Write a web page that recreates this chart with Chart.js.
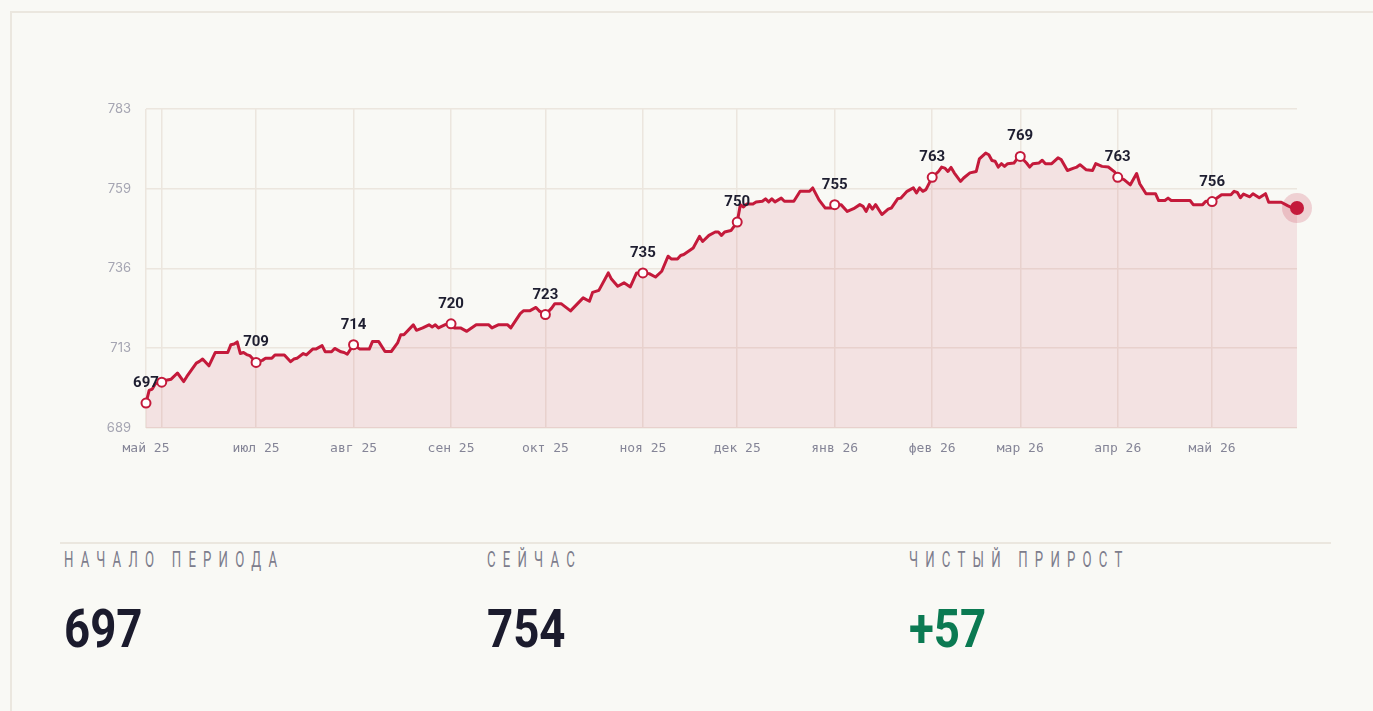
<!DOCTYPE html>
<html lang="ru">
<head>
<meta charset="utf-8">
<title>Динамика</title>
<script src="https://cdn.jsdelivr.net/npm/chart.js@4.4.1/dist/chart.umd.min.js"></script>
<style>
  html, body { margin: 0; padding: 0; background: #f9f9f5; overflow: hidden; }
  body { width: 1373px; height: 711px; position: relative; font-family: Roboto, "Noto Sans", sans-serif; }
  .card { position: absolute; left: 10px; top: 11px; width: 1400px; height: 760px; border: 2px solid #ebe7df; box-sizing: border-box; background: #f9f9f5; }
  .chart-wrap { position: absolute; left: 96px; top: 80px; width: 1240px; height: 390px; }
  .divider { position: absolute; left: 60px; top: 542px; width: 1271px; height: 2px; background: #ebe7df; }
  .stat-label { position: absolute; top: 549px; font-size: 22px; line-height: 22px; color: #7d7d8c; letter-spacing: 12px; transform: scaleX(0.6); transform-origin: left top; white-space: nowrap; }
  .stat-value { position: absolute; top: 603px; font-size: 53px; line-height: 53px; font-weight: 700; color: #1b1b2d; transform: scaleX(0.86); transform-origin: left top; white-space: nowrap; }
  .stat-value.up { color: #0b7a52; }
</style>
</head>
<body>
<div class="card"></div>
<div class="chart-wrap"><canvas id="chart" width="1240" height="390" style="width:1240px;height:390px"></canvas></div>
<div class="divider"></div>
<div class="stat-label" style="left:64px">НАЧАЛО ПЕРИОДА</div>
<div class="stat-label" style="left:487px">СЕЙЧАС</div>
<div class="stat-label" style="left:909px">ЧИСТЫЙ ПРИРОСТ</div>
<div class="stat-value" style="left:64px">697</div>
<div class="stat-value" style="left:487px">754</div>
<div class="stat-value up" style="left:909px">+57</div>
<script>
const days = [0,1,2,3,5,6,8,10,12,13,16,17,18,20,22,26,27,28,29,30,31,32,33,35,37,38,40,41,44,46,47,48,50,51,53,54,56,57,59,60,62,63,64,66,68,71,72,74,76,78,80,81,82,85,86,88,90,91,92,93,95,97,98,100,102,105,109,110,112,115,116,119,120,122,124,125,127,129,130,132,135,139,141,142,144,147,148,150,152,154,156,158,160,162,164,166,167,169,170,171,174,176,177,179,181,182,183,184,186,188,189,190,191,193,194,196,197,198,199,200,202,203,206,208,211,212,214,216,218,219,221,223,225,227,228,229,230,231,232,234,236,237,239,240,242,243,244,245,246,247,248,250,252,253,254,255,256,257,259,260,262,264,265,267,268,269,270,271,272,273,274,276,277,278,280,281,282,284,285,286,288,290,291,293,295,296,297,299,301,302,304,306,308,309,311,313,315,316,318,321,322,324,325,326,332,333,336,337,339,342,345,346,347,348,349,351,352,354,356,357,361,363,365,366];
const values = [696.7,700.4,700.8,702.4,702.8,703.3,703.7,705.5,703.0,704.5,708.4,708.9,709.6,707.6,711.5,711.5,713.8,714.0,714.6,711.2,711.5,710.9,710.6,708.6,709.2,709.8,709.8,710.8,710.8,708.8,709.6,709.8,711.2,710.8,712.5,712.5,713.5,711.7,711.7,712.7,711.7,711.5,711.0,713.8,712.5,712.5,714.7,714.7,711.8,711.8,714.3,716.7,716.7,719.6,718.0,718.7,719.6,719.0,719.6,718.7,719.6,719.9,718.7,718.7,717.7,719.6,719.6,718.7,719.6,719.6,718.7,722.9,723.7,723.7,724.7,723.7,722.6,724.5,725.8,725.8,723.7,727.5,726.5,729.1,729.7,734.8,733.0,730.9,731.9,730.7,734.8,734.8,734.6,733.6,735.3,739.7,738.9,738.9,739.9,740.2,742.1,745.5,744.0,745.8,746.8,746.8,745.8,746.8,747.2,749.7,754.8,754.1,755.0,755.0,755.6,755.8,756.5,755.6,756.5,755.6,756.7,755.8,755.8,758.7,758.7,759.7,756.2,753.8,753.8,754.8,754.8,752.8,753.6,754.8,754.3,752.8,754.8,753.5,754.8,751.9,753.5,753.8,756.5,756.7,758.7,759.2,759.7,758.2,759.7,758.7,759.2,762.8,764.5,765.8,765.5,764.5,765.7,764.1,761.6,762.6,764.1,764.5,768.2,769.9,769.4,767.7,767.5,765.8,766.8,766.0,766.8,767.0,768.2,768.9,767.0,765.8,766.8,767.0,767.8,766.8,766.8,768.5,768.0,764.8,765.5,765.8,766.5,765.0,764.8,766.8,766.0,765.8,764.4,762.8,762.1,760.6,763.9,760.9,758.0,758.0,756.0,756.0,756.7,756.0,756.0,754.8,754.8,755.8,755.7,757.7,757.7,758.7,758.4,756.8,757.9,757.1,758.0,756.8,758.0,755.5,755.5,754.5,753.6,753.8];

// month ticks (first of month), the first one is the period start
const tickDays = [0,5,35,66,97,127,158,188,219,250,278,309,339];
const tickLabels = ['май 25','','июл 25','авг 25','сен 25','окт 25','ноя 25','дек 25','янв 26','фев 26','мар 26','апр 26','май 26'];

// annotated points
const markerDays = [0,5,35,66,97,127,158,188,219,250,278,309,339];
const markerLabels = ['697','','709','714','720','723','735','750','755','763','769','763','756'];

const yTickValues = [689.4,712.75,736.1,759.45,782.8];
const yTickLabels = ['689','713','736','759','783'];

const RED = '#c41a3b';
const markerIdx = markerDays.map(d => days.indexOf(d));
const lastIdx = days.length - 1;

const pointLabels = {
  id: 'pointLabels',
  afterDatasetsDraw(chart) {
    const ctx = chart.ctx;
    const meta = chart.getDatasetMeta(1);
    ctx.save();
    ctx.font = 'bold 15px Roboto, Inter, sans-serif';
    ctx.fillStyle = '#1e1e30';
    ctx.textAlign = 'center';
    ctx.textBaseline = 'alphabetic';
    markerIdx.forEach((idx, k) => {
      if (!markerLabels[k]) return;
      const p = meta.data[idx];
      ctx.fillText(markerLabels[k], p.x, p.y - 16);
    });
    ctx.restore();
  }
};

const series = days.map((d, i) => ({ x: d, y: values[i] }));

new Chart(document.getElementById('chart'), {
  type: 'line',
  data: {
    datasets: [{
      // halo around the last point
      data: [series[lastIdx]],
      pointRadius: 15,
      pointBackgroundColor: 'rgba(196,26,59,0.18)',
      pointBorderWidth: 0,
      showLine: false,
      clip: false,
      order: 2
    }, {
      data: series,
      borderColor: RED,
      borderWidth: 3,
      borderJoinStyle: 'round',
      backgroundColor: 'rgba(196,26,59,0.10)',
      fill: 'start',
      tension: 0,
      clip: false,
      order: 1,
      pointRadius: c => c.dataIndex === lastIdx ? 7 : (markerIdx.includes(c.dataIndex) ? 4.5 : 0),
      pointBackgroundColor: c => c.dataIndex === lastIdx ? RED : '#ffffff',
      pointBorderColor: RED,
      pointBorderWidth: c => c.dataIndex === lastIdx ? 0 : 2,
      pointHoverRadius: 0
    }]
  },
  options: {
    responsive: false,
    maintainAspectRatio: false,
    animation: false,
    devicePixelRatio: 1,
    layout: { padding: { left: 0, right: 39, top: 29, bottom: 0 } },
    plugins: { legend: { display: false }, tooltip: { enabled: false } },
    scales: {
      x: {
        type: 'linear',
        min: 0,
        max: 366,
        afterFit: s => { s.height = 42; },
        afterBuildTicks: s => { s.ticks = tickDays.map(v => ({ value: v })); },
        border: { display: false },
        grid: { color: '#ece6de', lineWidth: 1.5, drawTicks: false },
        ticks: {
          autoSkip: false,
          maxRotation: 0,
          padding: 13,
          color: '#858597',
          font: { family: '"DejaVu Sans Mono", monospace', size: 13 },
          callback: (v, i) => tickLabels[i]
        }
      },
      y: {
        min: 689.4,
        max: 782.8,
        afterFit: s => { s.width = 50; },
        afterBuildTicks: s => { s.ticks = yTickValues.map(v => ({ value: v })); },
        border: { display: false },
        grid: { color: '#ece6de', lineWidth: 1.5, drawTicks: false },
        ticks: {
          padding: 15,
          color: '#a5a5b2',
          font: { family: 'Inter, Roboto, sans-serif', size: 13 },
          callback: (v, i) => yTickLabels[i]
        }
      }
    }
  },
  plugins: [pointLabels]
});
</script>
</body>
</html>
